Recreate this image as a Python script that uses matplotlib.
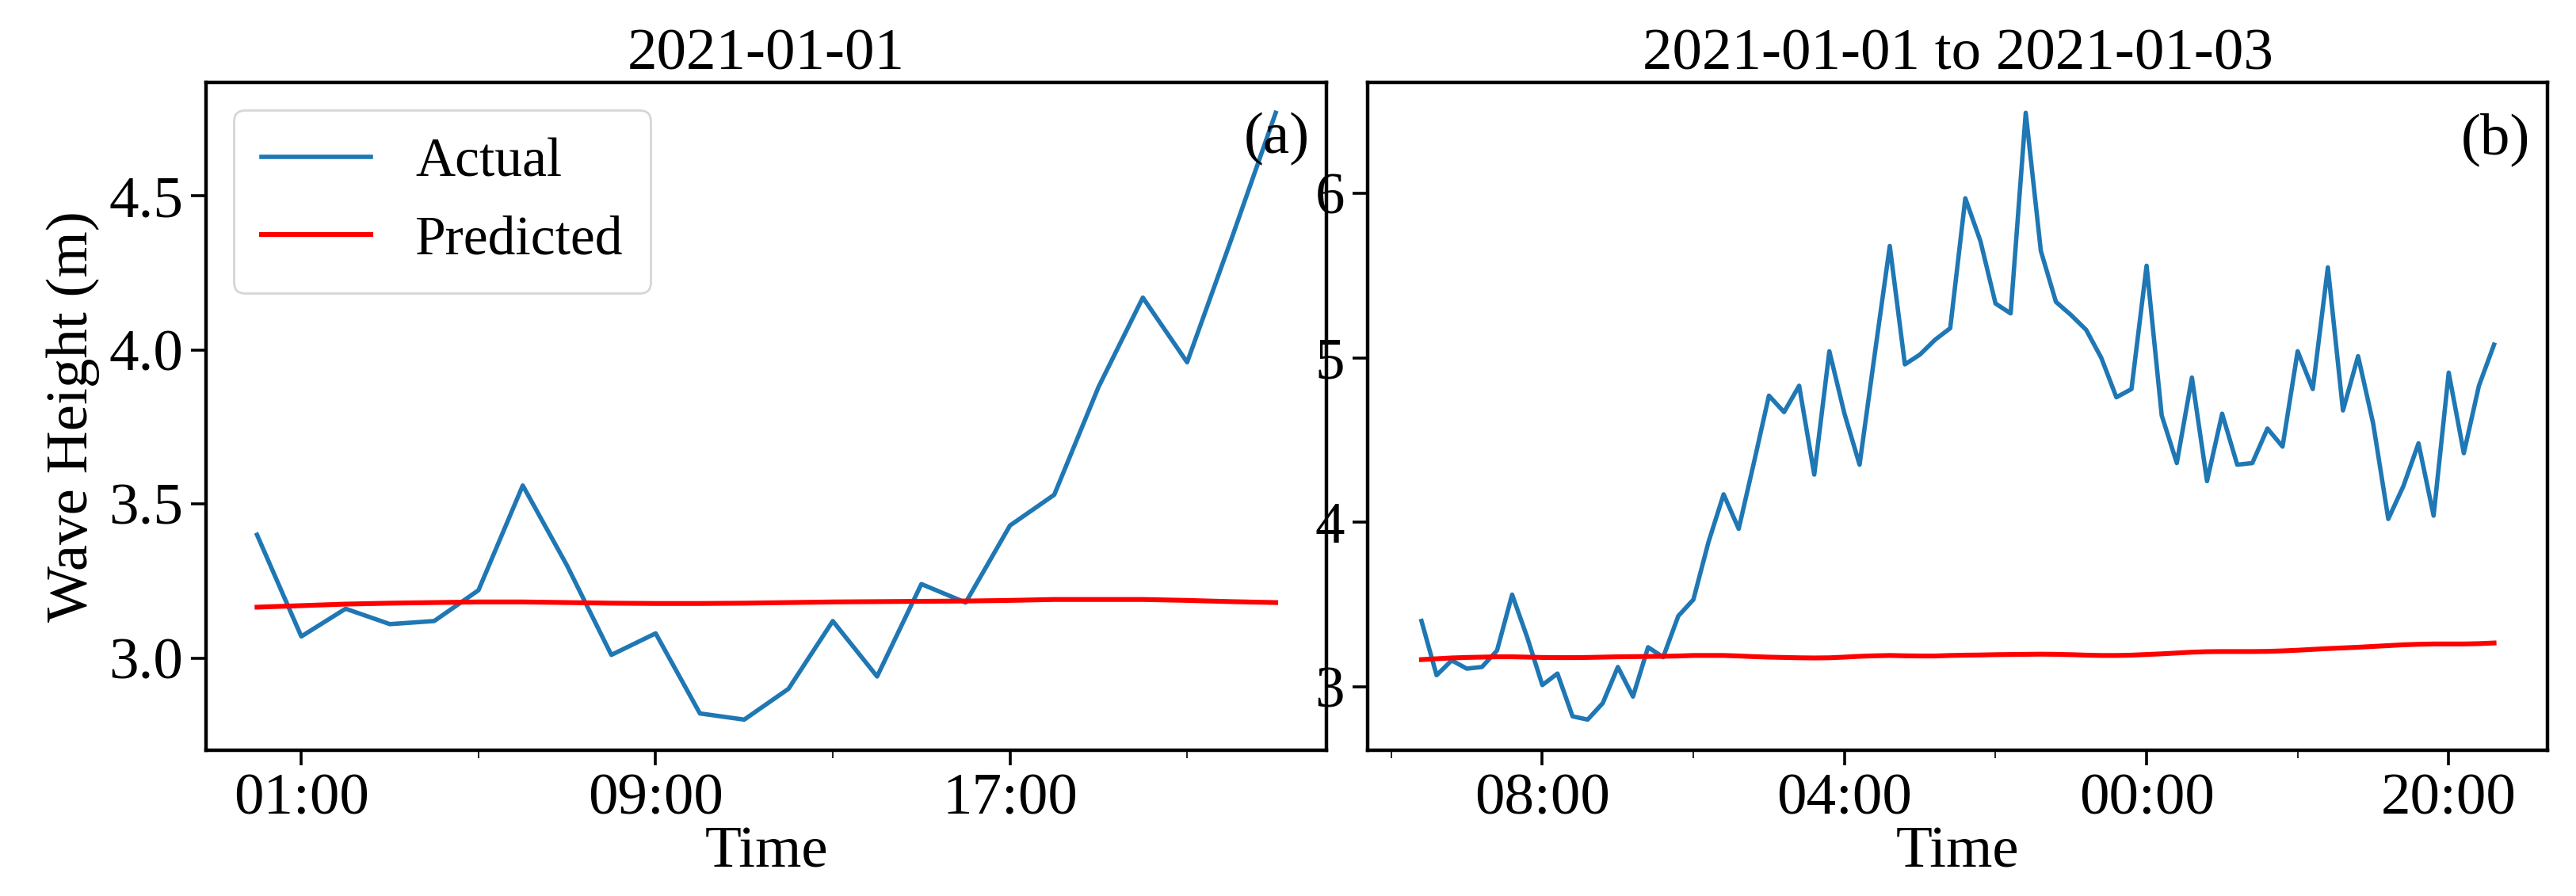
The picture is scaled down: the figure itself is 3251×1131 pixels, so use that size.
import datetime as dt

import matplotlib

matplotlib.use("Agg")
import matplotlib.dates as mdates
import matplotlib.pyplot as plt
from matplotlib.ticker import FixedLocator

plt.rcParams["font.family"] = ["Liberation Serif", "DejaVu Serif"]

# hourly significant wave height, 2021-01-01 00:00 .. 2021-01-03 23:00
actual = [3.40, 3.07, 3.16, 3.11, 3.12, 3.22, 3.56, 3.30, 3.01, 3.08, 2.82, 2.80,
          2.90, 3.12, 2.94, 3.24, 3.18, 3.43, 3.53, 3.88, 4.17, 3.96, 4.36, 4.77,
          4.67, 4.83, 4.29, 5.04, 4.66, 4.35, 5.02, 5.68, 4.96, 5.02, 5.11, 5.18,
          5.97, 5.71, 5.33, 5.27, 6.49, 5.65, 5.34, 5.26, 5.17, 5.00, 4.76, 4.81,
          5.56, 4.65, 4.36, 4.88, 4.25, 4.66, 4.35, 4.36, 4.57, 4.46, 5.04, 4.81,
          5.55, 4.68, 5.01, 4.60, 4.02, 4.22, 4.48, 4.04, 4.91, 4.42, 4.83, 5.08]
predicted = [3.165, 3.170, 3.175, 3.178, 3.180, 3.182, 3.182, 3.180, 3.178, 3.177, 3.177, 3.178,
             3.180, 3.182, 3.183, 3.184, 3.185, 3.187, 3.190, 3.190, 3.190, 3.187, 3.183, 3.180,
             3.178, 3.176, 3.175, 3.176, 3.180, 3.185, 3.188, 3.190, 3.188, 3.187, 3.187, 3.190,
             3.192, 3.193, 3.195, 3.196, 3.197, 3.198, 3.197, 3.195, 3.192, 3.190, 3.190, 3.192,
             3.196, 3.200, 3.205, 3.210, 3.213, 3.214, 3.214, 3.214, 3.215, 3.218, 3.222, 3.227,
             3.232, 3.236, 3.240, 3.245, 3.250, 3.255, 3.258, 3.260, 3.260, 3.260, 3.262, 3.266]

start = dt.datetime(2021, 1, 1)
times = [start + dt.timedelta(hours=h) for h in range(len(actual))]
day1 = 24

BLUE = "#1f77b4"
RED = "#ff0000"
FS = 27

fig = plt.figure(figsize=(16.255, 5.655), dpi=200)
ax1 = fig.add_axes([0.08, 0.163, 0.435, 0.745])
ax2 = fig.add_axes([0.531, 0.163, 0.458, 0.745])

# (a) first day
ax1.plot(times[:day1], actual[:day1], color=BLUE, lw=2.0, label="Actual")
ax1.plot(times[:day1], predicted[:day1], color=RED, lw=2.2, label="Predicted")
ax1.xaxis.set_major_locator(mdates.HourLocator(byhour=[1, 9, 17]))
ax1.xaxis.set_minor_locator(mdates.HourLocator(byhour=[5, 13, 21]))
ax1.set_yticks([3.0, 3.5, 4.0, 4.5])
ax1.set_title("2021-01-01", fontsize=FS)
ax1.set_ylabel("Wave Height (m)", fontsize=FS)
ax1.legend(loc="upper left", fontsize=FS - 2, handlelength=2.0, borderpad=0.5)
ax1.text(0.985, 0.955, "(a)", transform=ax1.transAxes, ha="right", va="top", fontsize=FS)

# (b) three days
ax2.plot(times, actual, color=BLUE, lw=2.0)
ax2.plot(times, predicted, color=RED, lw=2.2)
major = [mdates.date2num(start + dt.timedelta(hours=h)) for h in (8, 28, 48, 68)]
minor = [mdates.date2num(start + dt.timedelta(hours=h)) for h in (-2, 18, 38, 58)]
ax2.xaxis.set_major_locator(FixedLocator(major))
ax2.xaxis.set_minor_locator(FixedLocator(minor))
ax2.set_yticks([3, 4, 5, 6])
ax2.set_title("2021-01-01 to 2021-01-03", fontsize=FS)
ax2.text(0.985, 0.955, "(b)", transform=ax2.transAxes, ha="right", va="top", fontsize=FS)

for ax in (ax1, ax2):
    ax.xaxis.set_major_formatter(mdates.DateFormatter("%H:%M"))
    ax.set_xlabel("Time", fontsize=FS, labelpad=0)
    ax.tick_params(axis="both", which="major", labelsize=FS, length=7, width=1.3)
    ax.tick_params(axis="x", which="minor", length=3.5)
    for s in ax.spines.values():
        s.set_linewidth(1.6)

fig.savefig("out.png", dpi=200)
